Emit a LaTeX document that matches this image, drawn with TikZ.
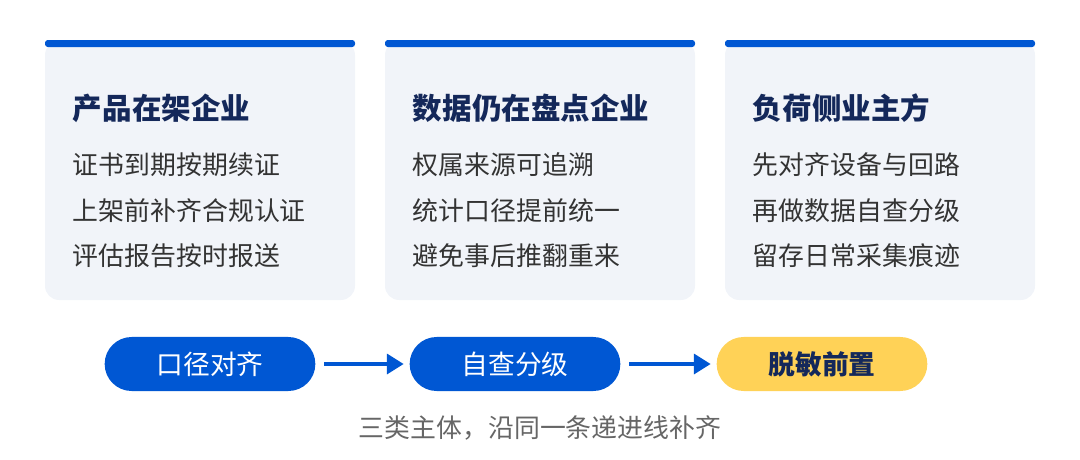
\documentclass[tikz,border=0pt]{standalone}
\usepackage{fontspec}
\setmainfont{Noto Sans CJK SC}
\usetikzlibrary{arrows.meta,shapes.misc}
\definecolor{bleu}{HTML}{0057D3}
\definecolor{fond}{HTML}{F1F4F9}
\definecolor{nuit}{HTML}{14285A}
\definecolor{texte}{HTML}{333333}
\definecolor{jaune}{HTML}{FFD257}
\begin{document}
\begin{tikzpicture}[x=0.025cm,y=-0.025cm]
%%%%%%%%%%%%%%%%%%%%%%%%%%%%%%%%%%%%%%%%%%%%%%%%%%%%%%%%
% STYLE
\tikzstyle{carte}=[fill=fond,rounded corners=10pt]
\tikzstyle{barre}=[fill=bleu,rounded corners=2pt]
\tikzstyle{titre}=[anchor=west,font=\fontsize{21}{25}\selectfont\bfseries,text=nuit]
\tikzstyle{ligne}=[anchor=west,font=\fontsize{18.4}{22}\selectfont,text=texte]
\tikzstyle{pilule}=[rounded rectangle,minimum width=5.5cm,minimum height=1.35cm,font=\fontsize{19}{23}\selectfont]
\tikzstyle{etape}=[pilule,fill=bleu,text=white]
\tikzstyle{fin}=[pilule,fill=jaune,text=nuit,font=\fontsize{19}{23}\selectfont\bfseries]
\tikzset{lien/.style={-{Triangle[length=12pt,width=14pt]},line width=3pt,draw=bleu}}
\useasboundingbox (0,0) rectangle (1080,460);
%%%%%%%%%%%%%%%%%%%%%%%%%%%%%%%%%%%%%%%%%%%%%%%%%%%%%%%%
% CARDS
\fill[carte] (45,41) rectangle (355,300);
\fill[carte] (385,41) rectangle (695,300);
\fill[carte] (725,41) rectangle (1035,300);
\fill[barre] (45,40) rectangle (355,47);
\fill[barre] (385,40) rectangle (695,47);
\fill[barre] (725,40) rectangle (1035,47);

\node[titre] (T1) at (68,108) {产品在架企业};
\node[ligne] (L11) at (68,165) {证书到期按期续证};
\node[ligne] (L12) at (68,211) {上架前补齐合规认证};
\node[ligne] (L13) at (68,256) {评估报告按时报送};

\node[titre] (T2) at (408,108) {数据仍在盘点企业};
\node[ligne] (L21) at (408,165) {权属来源可追溯};
\node[ligne] (L22) at (408,211) {统计口径提前统一};
\node[ligne] (L23) at (408,256) {避免事后推翻重来};

\node[titre] (T3) at (748,108) {负荷侧业主方};
\node[ligne] (L31) at (748,165) {先对齐设备与回路};
\node[ligne] (L32) at (748,211) {再做数据自查分级};
\node[ligne] (L33) at (748,256) {留存日常采集痕迹};
%%%%%%%%%%%%%%%%%%%%%%%%%%%%%%%%%%%%%%%%%%%%%%%%%%%%%%%%
% STEPS
\node[etape] (S1) at (210,364) {口径对齐};
\node[etape] (S2) at (515,364) {自查分级};
\node[fin] (S3) at (822,364) {脱敏前置};
\node[font=\fontsize{18.4}{22}\selectfont,text=black!60] (cap) at (540,428) {三类主体，沿同一条递进线补齐};
%%%%%%%%%%%%%%%%%%%%%%%%%%%%%%%%%%%%%%%%%%%%%%%%%%%%%%%%
% LINKS
\draw[lien] ([xshift=6pt]S1.east) -- ([xshift=-4pt]S2.west);
\draw[lien] ([xshift=6pt]S2.east) -- ([xshift=-4pt]S3.west);
\end{tikzpicture}
\end{document}
